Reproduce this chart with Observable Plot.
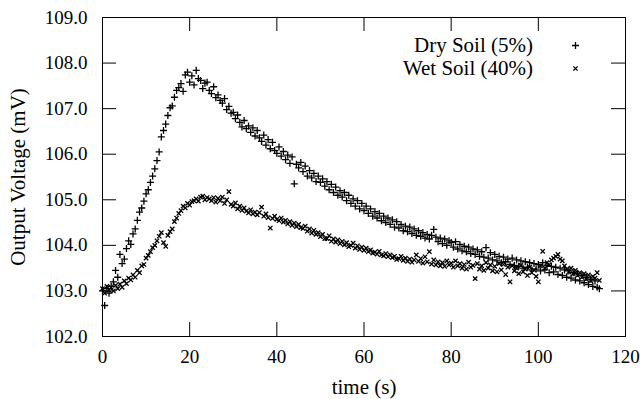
<!DOCTYPE html>
<html><head><meta charset="utf-8">
<script src="https://cdn.jsdelivr.net/npm/d3@7"></script>
<script src="https://cdn.jsdelivr.net/npm/@observablehq/plot@0.6"></script>
<style>
html,body{margin:0;padding:0;background:#fff;}
#wrap{position:relative;width:640px;height:399px;}
#legend{position:absolute;left:0;top:0;pointer-events:none;}
</style></head><body><div id="wrap"></div>
<script>
// sampling interval of the recorded series (s)
const dt = 0.5;
const xTicks = [0, 20, 40, 60, 80, 100, 120];
const yTicks = [102, 103, 104, 105, 106, 107, 108, 109];
const seriesNames = ["Dry Soil (5%)", "Wet Soil (40%)"];

// Output voltage (mV), Dry soil, one value per dt from t = 0
const dry = [
103.00,102.68,103.05,102.95,103.10,103.20,103.45,103.30,103.80,103.60,
103.70,103.93,104.10,104.02,104.25,104.36,104.55,104.73,104.82,104.97,
105.13,105.22,105.38,105.52,105.68,105.86,106.05,106.38,106.52,106.66,
106.85,107.02,107.06,107.25,107.40,107.46,107.55,107.38,107.74,107.80,
107.58,107.72,107.52,107.84,107.66,107.62,107.44,107.56,107.58,107.40,
107.33,107.48,107.24,107.30,107.18,107.12,107.22,106.98,107.05,106.90,
106.92,106.78,106.86,106.70,106.60,106.74,106.56,106.62,106.48,106.58,
106.40,106.52,106.36,106.28,106.42,106.20,106.32,106.12,106.26,106.08,
106.02,106.16,105.96,106.06,105.88,105.98,105.80,105.94,105.35,105.78,
105.70,105.82,105.62,105.74,105.52,105.64,105.48,105.58,105.40,105.52,
105.38,105.46,105.30,105.40,105.22,105.34,105.16,105.28,105.10,105.20,
105.06,105.16,104.98,105.10,104.92,105.02,104.86,104.98,104.80,104.92,
104.76,104.86,104.70,104.80,104.64,104.74,104.60,104.70,104.54,104.64,
104.50,104.60,104.46,104.56,104.40,104.52,104.38,104.46,104.32,104.42,
104.30,104.40,104.26,104.36,104.22,104.32,104.20,104.28,104.16,104.24,
104.14,104.22,104.35,104.18,104.08,104.16,104.04,104.14,104.00,104.10,
104.06,103.96,104.08,103.92,104.02,103.88,103.98,103.86,103.96,103.82,
103.92,103.80,103.90,103.76,103.86,103.74,103.95,103.72,103.84,103.68,
103.80,103.66,103.76,103.62,103.74,103.64,103.70,103.58,103.72,103.56,
103.68,103.54,103.66,103.50,103.64,103.52,103.62,103.46,103.60,103.48,
103.58,103.44,103.62,103.46,103.56,103.40,103.54,103.42,103.52,103.36,
103.50,103.34,103.46,103.30,103.44,103.28,103.40,103.24,103.38,103.22,
103.34,103.18,103.30,103.14,103.26,103.10,103.22,103.08,103.05
];

// Output voltage (mV), Wet soil, one value per dt from t = 0
const wet = [
103.05,102.95,103.10,103.02,103.08,103.00,103.12,103.05,103.15,103.08,
103.22,103.16,103.28,103.24,103.35,103.30,103.45,103.40,103.55,103.58,
103.72,103.78,103.86,103.95,104.00,104.10,104.20,104.28,104.06,103.98,
104.22,104.30,104.36,104.52,104.60,104.70,104.76,104.86,104.82,104.92,
104.88,104.96,104.98,105.02,104.97,105.06,105.08,105.00,105.05,105.02,
104.98,105.05,104.95,105.03,104.98,105.06,104.92,105.00,105.18,104.90,
104.86,104.93,104.80,104.86,104.77,104.82,104.75,104.71,104.78,104.69,
104.73,104.67,104.72,104.84,104.64,104.69,104.61,104.38,104.59,104.64,
104.57,104.54,104.60,104.51,104.55,104.47,104.52,104.44,104.49,104.41,
104.46,104.39,104.37,104.42,104.31,104.36,104.27,104.33,104.24,104.28,
104.19,104.24,104.15,104.15,104.21,104.09,104.14,104.07,104.12,104.04,
104.09,104.01,104.06,103.97,104.00,104.05,103.94,103.99,103.91,103.96,
103.89,103.94,103.86,103.90,103.83,103.85,103.81,103.87,103.79,103.77,
103.82,103.75,103.79,103.73,103.76,103.69,103.71,103.76,103.67,103.72,
103.65,103.70,103.63,103.68,103.79,103.65,103.71,103.61,103.75,103.64,
103.86,103.59,103.68,103.57,103.64,103.55,103.62,103.54,103.66,103.57,
103.61,103.52,103.66,103.55,103.60,103.50,103.58,103.48,103.63,103.52,
103.56,103.27,103.60,103.48,103.55,103.45,103.62,103.50,103.57,103.44,
103.54,103.42,103.60,103.46,103.58,103.36,103.52,103.20,103.55,103.44,
103.50,103.38,103.56,103.42,103.48,103.34,103.52,103.40,103.46,103.32,
103.20,103.55,103.87,103.50,103.62,103.58,103.68,103.72,103.76,103.80,
103.70,103.66,103.55,103.48,103.42,103.50,103.38,103.45,103.34,103.40,
103.30,103.38,103.26,103.35,103.22,103.32,103.28,103.40,103.23
];

const W = 640, H = 399;
const mL = 102, mR = 15, mT = 17, mB = 63;
const plotW = W - mL - mR, plotH = H - mT - mB;
const tickLen = 14;
const FONT = "Liberation Serif";

const dryData = dry.map((v, i) => ({t: i * dt, v}));
const wetData = wet.map((v, i) => ({t: i * dt, v}));

const plusSym = {symbol: "plus", r: 2.4, stroke: "black", strokeWidth: 1.3, fill: "none"};
const timesSym = {symbol: "times", r: 2.1, stroke: "black", strokeWidth: 1.3, fill: "none"};

const chart = Plot.plot({
  width: W, height: H,
  marginLeft: mL, marginRight: mR, marginTop: mT, marginBottom: mB,
  style: {fontFamily: FONT, fontSize: "19px", background: "white", color: "black"},
  x: {domain: [0, 120]},
  y: {domain: [102, 109]},
  marks: [
    Plot.ruleX(xTicks, {x: d => d, insetTop: plotH - tickLen, stroke: "black"}),
    Plot.ruleX(xTicks, {x: d => d, insetBottom: plotH - tickLen, stroke: "black"}),
    Plot.ruleY(yTicks, {y: d => d, insetRight: plotW - tickLen, stroke: "black"}),
    Plot.ruleY(yTicks, {y: d => d, insetLeft: plotW - tickLen, stroke: "black"}),
    Plot.axisX({ticks: xTicks, tickSize: 0, tickPadding: 13, tickFormat: d => String(d),
      label: null, fontSize: 19, fontFamily: FONT}),
    Plot.axisX({ticks: [], tickSize: 0,
      label: "time (s)", labelAnchor: "center", labelArrow: "none", labelOffset: 57,
      fontSize: 21, fontFamily: FONT}),
    Plot.axisY({ticks: yTicks, tickSize: 0, tickPadding: 15, tickFormat: d3.format(".1f"),
      label: null, fontSize: 19, fontFamily: FONT}),
    Plot.axisY({ticks: [], tickSize: 0,
      label: "Output Voltage (mV)", labelAnchor: "center", labelArrow: "none", labelOffset: 92,
      fontSize: 21, fontFamily: FONT}),
    Plot.dot(dryData, {x: "t", y: "v", ...plusSym}),
    Plot.dot(wetData, {x: "t", y: "v", ...timesSym}),
    Plot.frame({stroke: "black", strokeWidth: 1})
  ]
});

const wrap = document.getElementById("wrap");
wrap.appendChild(chart);

// legend (top-right, inside the frame)
const leg = d3.select(wrap).append("svg")
  .attr("id", "legend").attr("width", W).attr("height", H)
  .attr("font-family", FONT)
  .style("font-family", FONT).style("font-size", "21px");
const rows = [
  {name: seriesNames[0], sym: d3.symbolPlus, r: plusSym.r},
  {name: seriesNames[1], sym: d3.symbolTimes, r: timesSym.r}
];
rows.forEach((row, i) => {
  const cy = 45 + i * 23;
  leg.append("text").attr("x", 533).attr("y", cy).attr("text-anchor", "end")
    .attr("dominant-baseline", "central").attr("fill", "black").text(row.name);
  leg.append("path").attr("transform", `translate(575.5,${cy + 0.5})`)
    .attr("d", d3.symbol(row.sym, row.r * row.r * Math.PI)())
    .attr("fill", "none").attr("stroke", "black").attr("stroke-width", 1.3);
});
</script></body></html>
